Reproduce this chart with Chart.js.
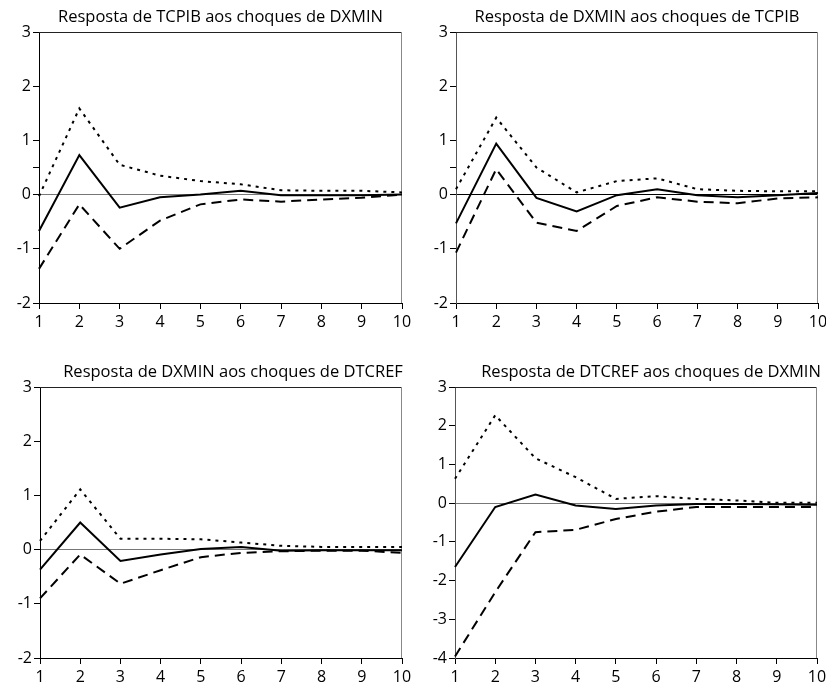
<!DOCTYPE html>
<html>
<head>
<meta charset="utf-8">
<script src="https://cdn.jsdelivr.net/npm/chart.js@4.4.1/dist/chart.umd.min.js"></script>
<style>
  html, body { margin: 0; padding: 0; background: #fff; }
  #wrap { position: relative; width: 826px; height: 687px; overflow: hidden; }
  canvas { position: absolute; }
</style>
</head>
<body>
<div id="wrap">
  <canvas id="c1" width="413" height="330" style="left:0;top:0"></canvas>
  <canvas id="c2" width="413" height="330" style="left:413px;top:0"></canvas>
  <canvas id="c3" width="413" height="337" style="left:0;top:350px"></canvas>
  <canvas id="c4" width="413" height="337" style="left:413px;top:350px"></canvas>
</div>
<script>
'use strict';

/* ── Data ────────────────────────────────────────────────── */

const periods = ['1', '2', '3', '4', '5', '6', '7', '8', '9', '10'];

const titles = [
  'Resposta de TCPIB aos choques de DXMIN',
  'Resposta de DXMIN aos choques de TCPIB',
  'Resposta de DXMIN aos choques de DTCREF',
  'Resposta de DTCREF aos choques de DXMIN',
];

// TCPIB <- DXMIN
const tcpibDxminResp  = [-0.67, 0.73, -0.24, -0.05, 0.00, 0.07, -0.01, -0.01, -0.01, 0.00];
const tcpibDxminUpper = [-0.03, 1.59, 0.55, 0.35, 0.25, 0.19, 0.08, 0.07, 0.07, 0.04];
const tcpibDxminLower = [-1.37, -0.18, -1.00, -0.48, -0.18, -0.09, -0.13, -0.09, -0.06, 0.00];

// DXMIN <- TCPIB
const dxminTcpibResp  = [-0.53, 0.94, -0.06, -0.31, -0.01, 0.10, -0.01, -0.05, -0.01, 0.03];
const dxminTcpibUpper = [0.10, 1.42, 0.50, 0.04, 0.25, 0.30, 0.10, 0.07, 0.06, 0.06];
const dxminTcpibLower = [-1.07, 0.47, -0.52, -0.67, -0.21, -0.05, -0.13, -0.16, -0.07, -0.05];

// DXMIN <- DTCREF
const dxminDtcrefResp  = [-0.37, 0.50, -0.21, -0.09, 0.01, 0.05, -0.02, -0.01, -0.01, -0.01];
const dxminDtcrefUpper = [0.16, 1.11, 0.20, 0.20, 0.19, 0.13, 0.07, 0.05, 0.05, 0.05];
const dxminDtcrefLower = [-0.90, -0.09, -0.63, -0.38, -0.14, -0.06, -0.03, -0.02, -0.02, -0.06];

// DTCREF <- DXMIN
const dtcrefDxminResp  = [-1.65, -0.10, 0.22, -0.06, -0.15, -0.06, -0.02, -0.02, -0.03, -0.04];
const dtcrefDxminUpper = [0.63, 2.27, 1.16, 0.67, 0.11, 0.18, 0.11, 0.07, 0.01, 0.01];
const dtcrefDxminLower = [-3.96, -2.30, -0.75, -0.69, -0.41, -0.22, -0.10, -0.10, -0.10, -0.10];

/* ── Shared styling ──────────────────────────────────────── */

const FONT = '"Open Sans", "Noto Sans", sans-serif';

// frame on top/right + panel title
const panelDecor = {
  id: 'panelDecor',
  beforeDatasetsDraw(chart, args, opts) {
    const { ctx, chartArea: a } = chart;
    ctx.save();
    ctx.lineWidth = 1;
    ctx.strokeStyle = opts.topColor;
    ctx.beginPath();
    ctx.moveTo(a.left, a.top + 0.5);
    ctx.lineTo(a.right, a.top + 0.5);
    ctx.stroke();
    ctx.strokeStyle = opts.rightColor;
    ctx.beginPath();
    ctx.moveTo(a.right - 0.5, a.top);
    ctx.lineTo(a.right - 0.5, a.bottom);
    ctx.stroke();
    ctx.restore();
  },
  afterDraw(chart, args, opts) {
    const { ctx, chartArea: a } = chart;
    ctx.save();
    ctx.font = `${opts.size}px ${FONT}`;
    ctx.fillStyle = '#000';
    ctx.textAlign = 'center';
    ctx.textBaseline = 'alphabetic';
    ctx.fillText(opts.text, (a.left + a.right) / 2 + opts.dx, opts.baseline);
    ctx.restore();
  },
};

function lineSet(data, dash) {
  return {
    data,
    borderColor: '#000',
    borderWidth: 2,
    borderDash: dash,
    pointRadius: 0,
    tension: 0,
    fill: false,
  };
}

/**
 * One impulse-response panel.
 */
function createPanel(canvas, p) {
  return new Chart(canvas, {
    type: 'line',
    data: {
      labels: periods,
      datasets: [
        lineSet(p.upper, [3, 5]),
        lineSet(p.resp, []),
        lineSet(p.lower, [10, 6]),
      ],
    },
    options: {
      responsive: false,
      animation: false,
      layout: { padding: { top: p.top, right: p.right, left: 0, bottom: 0 } },
      plugins: {
        legend: { display: false },
        tooltip: { enabled: false },
        title: { display: false },
        panelDecor: {
          text: p.title,
          size: 16.5,
          dx: p.dx,
          baseline: p.baseline,
          topColor: '#222',
          rightColor: '#888',
        },
      },
      scales: {
        x: {
          offset: false,
          afterFit: s => {
            s.height = p.xh;
            s.paddingLeft = 0;
            s.paddingRight = 0;
          },
          border: { display: true, color: '#000', width: 1 },
          grid: { drawOnChartArea: false, drawTicks: true, tickLength: 6, tickColor: '#000' },
          ticks: { color: '#000', padding: 4, maxRotation: 0, autoSkip: false,
                   font: { family: FONT, size: 16 } },
        },
        y: {
          min: p.min,
          max: p.max,
          afterFit: s => { s.width = p.yw; },
          afterBuildTicks: s => {
            if (p.halfTick) {
              s.ticks.push({ value: 0.5 });
              s.ticks.sort((a, b) => a.value - b.value);
            }
          },
          border: { display: true, color: p.axisColor, width: 1 },
          grid: {
            drawOnChartArea: true,
            drawTicks: true,
            tickLength: 6,
            tickColor: '#000',
            lineWidth: 1,
            color: c => (c.tick && c.tick.value === 0 ? p.zeroColor : 'rgba(0,0,0,0)'),
          },
          ticks: {
            stepSize: 1,
            color: '#000',
            padding: 2,
            font: { family: FONT, size: 16 },
            callback: v => (v === 0.5 ? '' : v),
          },
        },
      },
    },
    plugins: [panelDecor],
  });
}

createPanel(document.getElementById('c1'), {
  title: titles[0], resp: tcpibDxminResp, upper: tcpibDxminUpper, lower: tcpibDxminLower,
  min: -2, max: 3, top: 32, right: 11, yw: 39, xh: 27, dx: 0, baseline: 22,
  halfTick: true, axisColor: '#000', zeroColor: '#777',
});

createPanel(document.getElementById('c2'), {
  title: titles[1], resp: dxminTcpibResp, upper: dxminTcpibUpper, lower: dxminTcpibLower,
  min: -2, max: 3, top: 32, right: 8, yw: 43, xh: 27, dx: 0, baseline: 22,
  halfTick: true, axisColor: '#555', zeroColor: '#000',
});

createPanel(document.getElementById('c3'), {
  title: titles[2], resp: dxminDtcrefResp, upper: dxminDtcrefUpper, lower: dxminDtcrefLower,
  min: -2, max: 3, top: 37, right: 11, yw: 40, xh: 29, dx: 12, baseline: 27,
  halfTick: false, axisColor: '#000', zeroColor: '#777',
});

createPanel(document.getElementById('c4'), {
  title: titles[3], resp: dtcrefDxminResp, upper: dtcrefDxminUpper, lower: dtcrefDxminLower,
  min: -4, max: 3, top: 37, right: 9, yw: 42, xh: 29, dx: 15, baseline: 27,
  halfTick: false, axisColor: '#555', zeroColor: '#777',
});
</script>
</body>
</html>
